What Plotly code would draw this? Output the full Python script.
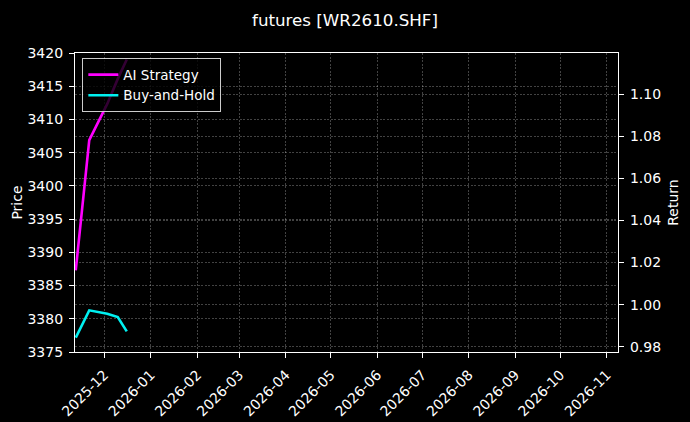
import plotly.graph_objects as go

# values
dates = ["2025-11-12", "2025-11-21", "2025-12-03", "2025-12-10", "2025-12-16"]
ai_strategy = [1.0163, 1.0782, 1.0954, 1.1073, 1.1165]
buy_and_hold = [0.9843, 0.9973, 0.9957, 0.9941, 0.9873]

price_range = [3375, 3420]
return_range = [0.9775, 1.1196]
x_range = ["2025-11-11 12:00", "2026-11-08 10:00"]

FONT = "DejaVu Sans"
GRID = "rgba(255,255,255,0.26)"

fig = go.Figure()

# empty price trace so the left axis is drawn (no price line in the reference)
fig.add_trace(go.Scatter(x=dates[:1], y=[None], mode="lines", showlegend=False,
                         hoverinfo="skip", yaxis="y"))
fig.add_trace(go.Scatter(x=dates, y=ai_strategy, mode="lines", name="AI Strategy",
                         line=dict(color="#ff00ff", width=2.6), yaxis="y2"))
fig.add_trace(go.Scatter(x=dates, y=buy_and_hold, mode="lines", name="Buy-and-Hold",
                         line=dict(color="#00f0f0", width=2.6), yaxis="y2"))

axis_common = dict(showline=True, linecolor="white", linewidth=1.2,
                   ticks="outside", ticklen=5, tickcolor="white",
                   ticklabelstandoff=3,
                   showgrid=True, gridcolor=GRID, griddash="2px,1.5px", gridwidth=0.7,
                   zeroline=False, automargin=False,
                   tickfont=dict(color="white", size=14, family=FONT))

fig.update_layout(
    width=690, height=422,
    paper_bgcolor="black", plot_bgcolor="black",
    margin=dict(l=75, r=72, t=53, b=70, autoexpand=False),
    font=dict(family=FONT, color="white", size=14),
    title=dict(text="futures [WR2610.SHF]", x=0.5, xanchor="center",
               y=0.953, yanchor="middle", font=dict(size=16.7, color="white")),
    xaxis=dict(range=x_range, type="date", dtick="M1", tick0="2025-12-01",
               tickformat="%Y-%m", tickangle=-45, mirror=True, **axis_common),
    yaxis=dict(range=price_range, dtick=5,
               title=dict(text="Price", font=dict(size=14), standoff=1), **axis_common),
    yaxis2=dict(range=return_range, dtick=0.02, tickformat=".2f", overlaying="y",
                side="right", title=dict(text="Return", font=dict(size=14), standoff=8),
                **axis_common),
    legend=dict(x=0.0135, y=0.982, xanchor="left", yanchor="top", itemwidth=30,
                bgcolor="rgba(0,0,0,0.8)", bordercolor="rgba(255,255,255,0.8)",
                borderwidth=1, font=dict(size=13.5, color="white")),
    showlegend=True,
)

# drop the page's default body margin so the figure sits at the window corner
fig.write_html("out.html", config={"displayModeBar": False},
               post_script="document.body.style.margin='0';"
                           "document.body.style.background='black';")
